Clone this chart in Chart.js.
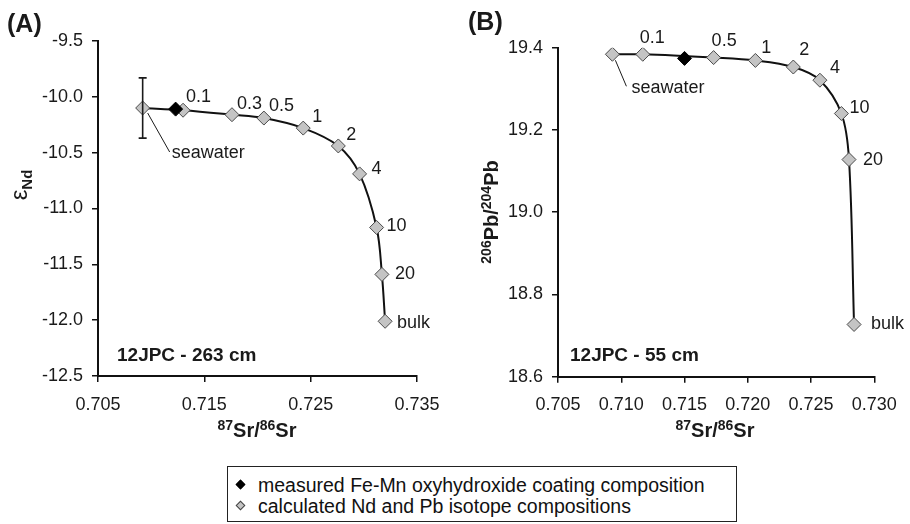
<!DOCTYPE html>
<html>
<head>
<meta charset="utf-8">
<script src="https://cdn.jsdelivr.net/npm/chart.js@4.4.1/dist/chart.umd.min.js"></script>
<style>
  body { margin: 0; background: #fff; width: 910px; height: 524px; overflow: hidden; position: relative; font-family: "Liberation Sans", Arial, sans-serif; }
  canvas { position: absolute; top: 0; }
  #legend { position: absolute; left: 227px; top: 466px; width: 510px; height: 56px; border: 1.5px solid #222; box-sizing: border-box; font-size: 19.5px; color: #111; }
  #legend .row { position: absolute; left: 30px; height: 20px; line-height: 20px; }
  #legend .mk { position: absolute; left: 9px; width: 7px; height: 7px; transform: rotate(45deg); box-sizing: border-box; }
</style>
</head>
<body>
<canvas id="chartA" width="455" height="460" style="left:0"></canvas>
<canvas id="chartB" width="455" height="460" style="left:455px"></canvas>
<div id="legend">
  <span class="mk" style="top:14px;background:#000;border:1px solid #000"></span>
  <div class="row" style="top:8px">measured Fe-Mn oxyhydroxide coating composition</div>
  <span class="mk" style="top:35px;background:#c4c4c4;border:1px solid #444"></span>
  <div class="row" style="top:29px">calculated Nd and Pb isotope compositions</div>
</div>
<script>
// (A) 12JPC - 263 cm : mixing curve seawater -> bulk
const srA = [0.7092, 0.7130, 0.7176, 0.7206, 0.7243, 0.7276, 0.7296, 0.7312, 0.7317, 0.7320];
const ndA = [-10.10, -10.12, -10.16, -10.19, -10.28, -10.44, -10.69, -11.17, -11.59, -12.01];
const mixLabelsA = ['seawater', '0.1', '0.3', '0.5', '1', '2', '4', '10', '20', 'bulk'];
const measuredA = [{ x: 0.7123, y: -10.11 }];
const seawaterErrA = 0.27;

// (B) 12JPC - 55 cm
const srB = [0.7093, 0.7117, 0.7173, 0.7206, 0.7236, 0.7257, 0.7274, 0.7280, 0.7284];
const pbB = [19.384, 19.384, 19.376, 19.369, 19.353, 19.321, 19.240, 19.128, 18.727];
const mixLabelsB = ['seawater', '0.1', '0.5', '1', '2', '4', '10', '20', 'bulk'];
const measuredB = [{ x: 0.7150, y: 19.374 }];

// label offsets in px from the marker (style only)
const offA = [null, [3, -13], [5, -11], [5, -12], [9, -11], [8, -11], [12, -5], [10, -1], [13, 0], [12, 2]];
const offB = [null, [-3, -16], [-2, -17], [6, -12], [6, -17], [10, -12], [8, -5], [14, 0], [17, 0]];

const FONT = '"Liberation Sans", Arial, sans-serif';
const INK = '#1a1a1a';

function richText(ctx, parts, x, y, align) {
  // parts: [text, size, shift, weight]; shift <0 superscript, >0 subscript
  const f = p => (p[3] || 'bold') + ' ' + p[1] + 'px ' + FONT;
  let w = 0;
  parts.forEach(p => { ctx.font = f(p); w += ctx.measureText(p[0]).width; });
  let cx = align === 'center' ? x - w / 2 : x;
  ctx.textBaseline = 'alphabetic';
  ctx.textAlign = 'left';
  parts.forEach(p => {
    ctx.font = f(p);
    ctx.fillText(p[0], cx, y + (p[2] || 0));
    cx += ctx.measureText(p[0]).width;
  });
}

const decor = {
  id: 'decor',
  afterDatasetsDraw(chart, args, o) {
    const ctx = chart.ctx;
    const xs = chart.scales.x, ys = chart.scales.y;
    ctx.save();
    ctx.fillStyle = INK;
    ctx.strokeStyle = INK;
    // error bar on seawater
    if (o.err) {
      const px = xs.getPixelForValue(o.xs[0]);
      const y1 = ys.getPixelForValue(o.ys[0] + o.err), y2 = ys.getPixelForValue(o.ys[0] - o.err);
      ctx.lineWidth = 1.6;
      ctx.beginPath();
      ctx.moveTo(px, y1); ctx.lineTo(px, y2);
      ctx.moveTo(px - 4, y1); ctx.lineTo(px + 4, y1);
      ctx.moveTo(px - 4, y2); ctx.lineTo(px + 4, y2);
      ctx.stroke();
    }
    // point labels
    ctx.font = '18px ' + FONT;
    ctx.textBaseline = 'middle';
    ctx.textAlign = 'left';
    o.labels.forEach((t, i) => {
      const px = xs.getPixelForValue(o.xs[i]), py = ys.getPixelForValue(o.ys[i]);
      if (i === 0) {
        const s = o.sea;
        ctx.lineWidth = 1;
        ctx.beginPath();
        ctx.moveTo(px + s[0], py + s[1]); ctx.lineTo(px + s[2], py + s[3]);
        ctx.stroke();
        ctx.fillText(t, px + s[4], py + s[5]);
      } else {
        ctx.fillText(t, px + o.off[i][0], py + o.off[i][1]);
      }
    });
    // panel label and core label
    ctx.font = 'bold 25px ' + FONT;
    ctx.textBaseline = 'middle';
    ctx.fillText(o.panel[0], o.panel[1], o.panel[2]);
    ctx.font = 'bold 19px ' + FONT;
    ctx.fillText(o.core[0], o.core[1], o.core[2]);
    // axis titles
    richText(ctx, [['87', 14, -7], ['Sr/', 20], ['86', 14, -7], ['Sr', 20]], o.xt[0], o.xt[1], 'center');
    ctx.save();
    ctx.translate(o.yt[0], o.yt[1]);
    ctx.rotate(-Math.PI / 2);
    richText(ctx, o.ytParts, 0, 0, 'center');
    ctx.restore();
    ctx.restore();
  }
};

function axis(min, max, step, digits, isY, size) {
  return {
    type: 'linear', min: min, max: max,
    afterFit: s => { if (isY) s.width = size; else s.height = size; },
    border: { color: '#111', width: 2 },
    grid: { drawOnChartArea: false, drawTicks: true, tickLength: 6, color: '#111', lineWidth: 1.5 },
    ticks: {
      stepSize: step, padding: isY ? 9 : 12, color: INK, font: { family: FONT, size: 18 },
      maxRotation: 0, autoSkip: false,
      callback: v => Number(v).toFixed(digits)
    }
  };
}

function makeChart(id, xsArr, ysArr, measured, cfg) {
  const pts = xsArr.map((x, i) => ({ x: x, y: ysArr[i] }));
  return new Chart(document.getElementById(id), {
    type: 'scatter',
    data: {
      datasets: [
        { data: measured, pointStyle: 'rectRot', pointRadius: 7, backgroundColor: '#000', borderColor: '#000', borderWidth: 1, order: 0 },
        { data: pts, showLine: true, tension: 0.35, borderColor: '#111', borderWidth: 2,
          pointStyle: 'rectRot', pointRadius: 7, pointBackgroundColor: '#c4c4c4', pointBorderColor: '#4a4a4a', pointBorderWidth: 1, order: 1 }
      ]
    },
    options: {
      responsive: false, animation: false, events: [],
      layout: { autoPadding: false, padding: cfg.pad },
      plugins: { legend: { display: false }, tooltip: { enabled: false }, decor: Object.assign({ xs: xsArr, ys: ysArr }, cfg.decor) },
      scales: { x: cfg.x, y: cfg.y }
    },
    plugins: [decor]
  });
}

makeChart('chartA', srA, ndA, measuredA, {
  pad: { left: 0, top: 41, right: 38, bottom: 0 },
  x: axis(0.705, 0.735, 0.01, 3, false, 84),
  y: axis(-12.5, -9.5, 0.5, 1, true, 98),
  decor: {
    labels: mixLabelsA, off: offA, err: seawaterErrA,
    sea: [5, 5, 27, 44, 29, 45],
    panel: ['(A)', 7, 25], core: ['12JPC - 263 cm', 117, 356],
    xt: [257, 437], yt: [27, 185],
    ytParts: [['\u03b5', 24, 0, 'normal'], ['Nd', 15, 5]]
  }
});

makeChart('chartB', srB, pbB, measuredB, {
  pad: { left: 0, top: 47.7, right: 35.7, bottom: 0 },
  x: axis(0.705, 0.730, 0.005, 3, false, 83.3),
  y: axis(18.6, 19.4, 0.2, 1, true, 103),
  decor: {
    labels: mixLabelsB, off: offB, err: 0,
    sea: [3, 6, 14, 32, 19, 34],
    panel: ['(B)', 13, 23], core: ['12JPC - 55 cm', 115, 356],
    xt: [260, 437], yt: [43, 212],
    ytParts: [['206', 14, -7], ['Pb/', 20], ['204', 14, -7], ['Pb', 20]]
  }
});
</script>
</body>
</html>
